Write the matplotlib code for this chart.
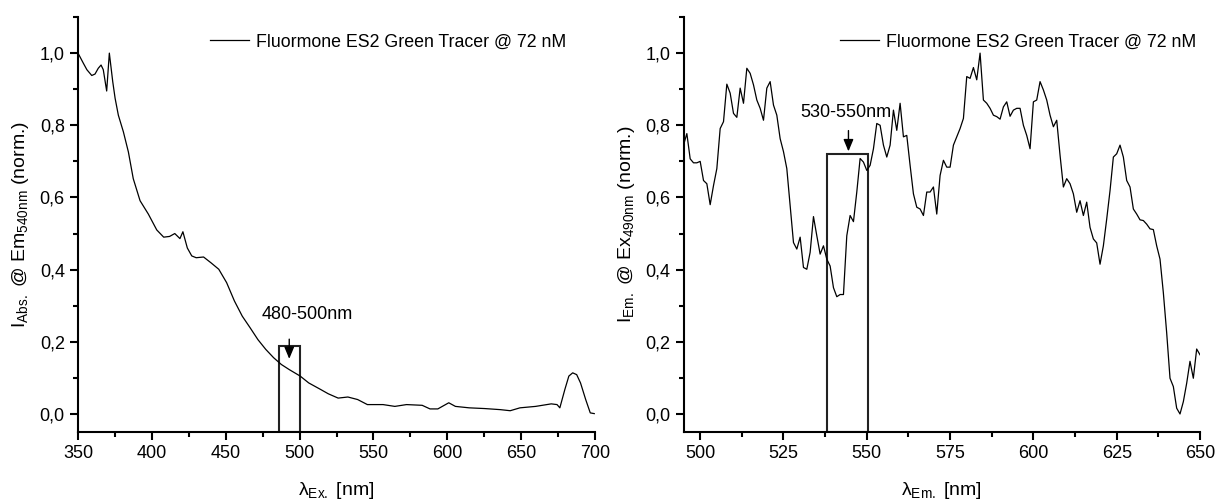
import numpy as np
import matplotlib
matplotlib.use("Agg")
import matplotlib.pyplot as plt
from matplotlib.patches import Rectangle
from matplotlib.ticker import MultipleLocator, FuncFormatter

plt.rcParams["font.family"] = ["Liberation Sans", "DejaVu Sans"]
plt.rcParams["mathtext.fontset"] = "custom"
plt.rcParams["mathtext.rm"] = "Liberation Sans"
plt.rcParams["mathtext.it"] = "Liberation Sans:italic"

# ----------------------
# excitation spectrum (left)
# ----------------------
ex_nm = [350, 353.6, 356, 359.3, 361.5, 363.7, 365.6, 367.1, 369.4, 371.2,
         373.5, 375.1, 377.3, 380.7, 384.1, 387.4, 392, 397.6, 403.3, 408,
         412, 415.5, 419, 421, 424, 427, 430, 435, 440, 445.3,
         450.6, 455.9, 461.2, 466.5, 471.8, 477.1, 482.4, 487.7, 493, 500.4,
         506.2, 514.2, 519.4, 526.1, 532.7, 539.3, 545.9, 556.5, 564.5, 572.4,
         583, 588.3, 593.6, 597.5, 601, 605.5, 614.8, 625.3, 635.9, 642.6,
         649.2, 659.8, 670.4, 674.3, 676.2, 679.6, 682.3, 684.9, 687.6, 690.2,
         693.7, 696.8, 699.5]
ex_int = [1.0, 0.972, 0.954, 0.938, 0.942, 0.958, 0.967, 0.954, 0.895, 1.0,
          0.921, 0.875, 0.828, 0.782, 0.726, 0.652, 0.591, 0.554, 0.51, 0.49,
          0.492, 0.50, 0.486, 0.505, 0.46, 0.438, 0.433, 0.435, 0.419, 0.401,
          0.364, 0.313, 0.271, 0.239, 0.206, 0.179, 0.156, 0.137, 0.123, 0.105,
          0.086, 0.068, 0.056, 0.044, 0.047, 0.040, 0.026, 0.026, 0.021, 0.026,
          0.024, 0.014, 0.014, 0.023, 0.031, 0.021, 0.017, 0.015, 0.012, 0.009,
          0.017, 0.021, 0.028, 0.026, 0.017, 0.068, 0.105, 0.114, 0.109, 0.086,
          0.040, 0.003, 0.001]

# ----------------------
# emission spectrum (right), 1 nm steps from 495 to 650
# ----------------------
em_nm = np.arange(495, 651)
em_int = [0.745, 0.777, 0.707, 0.696, 0.696, 0.700, 0.647, 0.638, 0.580, 0.633,
          0.680, 0.791, 0.810, 0.914, 0.889, 0.833, 0.822, 0.903, 0.861, 0.958,
          0.944, 0.912, 0.870, 0.847, 0.814, 0.903, 0.921, 0.856, 0.828, 0.763,
          0.727, 0.680, 0.577, 0.475, 0.457, 0.490, 0.406, 0.401, 0.448, 0.547,
          0.494, 0.443, 0.466, 0.429, 0.410, 0.350, 0.325, 0.331, 0.331, 0.494,
          0.550, 0.533, 0.615, 0.708, 0.698, 0.675, 0.689, 0.735, 0.805, 0.800,
          0.745, 0.712, 0.745, 0.842, 0.786, 0.861, 0.768, 0.772, 0.689, 0.610,
          0.573, 0.568, 0.550, 0.615, 0.615, 0.629, 0.554, 0.661, 0.703, 0.684,
          0.684, 0.745, 0.768, 0.791, 0.819, 0.935, 0.930, 0.960, 0.926, 1.000,
          0.870, 0.861, 0.847, 0.828, 0.824, 0.817, 0.851, 0.865, 0.825, 0.842,
          0.847, 0.847, 0.800, 0.772, 0.735, 0.865, 0.870, 0.921, 0.898, 0.870,
          0.828, 0.796, 0.814, 0.717, 0.629, 0.652, 0.638, 0.610, 0.559, 0.591,
          0.550, 0.587, 0.517, 0.485, 0.474, 0.415, 0.466, 0.540, 0.619, 0.712,
          0.721, 0.745, 0.712, 0.647, 0.629, 0.568, 0.554, 0.538, 0.536, 0.526,
          0.513, 0.511, 0.466, 0.429, 0.336, 0.225, 0.099, 0.076, 0.016, 0.000,
          0.034, 0.085, 0.146, 0.099, 0.180, 0.164]

label = "Fluormone ES2 Green Tracer @ 72 nM"

# filter windows: (start, end, box top)
ex_window = (486, 500.4, 0.187)
em_window = (538.2, 550.3, 0.72)


def comma(v, pos):
    return f"{v:.1f}".replace(".", ",")


def style(ax, xlim, xmaj, xmin):
    ax.set_xlim(*xlim)
    ax.set_ylim(-0.05, 1.1)
    ax.spines["top"].set_visible(False)
    ax.spines["right"].set_visible(False)
    for s in ("left", "bottom"):
        ax.spines[s].set_linewidth(1.5)
    ax.xaxis.set_major_locator(MultipleLocator(xmaj))
    ax.xaxis.set_minor_locator(MultipleLocator(xmin))
    ax.yaxis.set_major_locator(MultipleLocator(0.2))
    ax.yaxis.set_minor_locator(MultipleLocator(0.1))
    ax.yaxis.set_major_formatter(FuncFormatter(comma))
    ax.tick_params(which="major", direction="out", length=6, width=1.5, labelsize=13)
    ax.tick_params(which="minor", direction="out", length=3.5, width=1.5)


fig = plt.figure(figsize=(12.21, 5.01), dpi=100)
ax1 = fig.add_axes([0.0639, 0.1377, 0.4234, 0.8283])
ax2 = fig.add_axes([0.5598, 0.1377, 0.4230, 0.8283])

# ---- left panel ----
ax1.plot(ex_nm, ex_int, color="black", lw=0.9, label=label)
style(ax1, (350, 700), 50, 25)
ax1.add_patch(Rectangle((ex_window[0], -0.05), ex_window[1] - ex_window[0],
                        ex_window[2] + 0.05, fill=False, ec="#222222", lw=1.5))
ax1.annotate("", xy=(493, 0.145), xytext=(493, 0.215),
             arrowprops=dict(arrowstyle="-|>,head_width=0.25,head_length=0.6",
                             color="black", lw=1, mutation_scale=12))
ax1.text(505, 0.276, "480-500nm", ha="center", va="center", fontsize=13)
ax1.set_xlabel("λ$_{\\mathrm{Ex.}}$ [nm]", fontsize=14, labelpad=13)
ax1.set_ylabel("I$_{\\mathrm{Abs.}}$ @ Em$_{\\mathrm{540nm}}$ (norm.)", fontsize=14, labelpad=6)
ax1.legend(loc="upper left", bbox_to_anchor=(0.255, 0.96), frameon=False,
           fontsize=12.8, handlelength=2.2, handletextpad=0.4,
           borderpad=0, borderaxespad=0)

# ---- right panel ----
ax2.plot(em_nm, em_int, color="black", lw=0.9, label=label)
style(ax2, (495, 650), 25, 12.5)
ax2.add_patch(Rectangle((em_window[0], -0.05), em_window[1] - em_window[0],
                        em_window[2] + 0.05, fill=False, ec="#222222", lw=1.5))
ax2.annotate("", xy=(544.5, 0.72), xytext=(544.5, 0.793),
             arrowprops=dict(arrowstyle="-|>,head_width=0.25,head_length=0.6",
                             color="black", lw=1, mutation_scale=12))
ax2.text(543.8, 0.836, "530-550nm", ha="center", va="center", fontsize=13)
ax2.set_xlabel("λ$_{\\mathrm{Em.}}$ [nm]", fontsize=14, labelpad=13)
ax2.set_ylabel("I$_{\\mathrm{Em.}}$ @ Ex$_{\\mathrm{490nm}}$ (norm.)", fontsize=14, labelpad=6)
ax2.legend(loc="upper left", bbox_to_anchor=(0.303, 0.96), frameon=False,
           fontsize=12.8, handlelength=2.2, handletextpad=0.4,
           borderpad=0, borderaxespad=0)

fig.savefig("out.png", dpi=100)
